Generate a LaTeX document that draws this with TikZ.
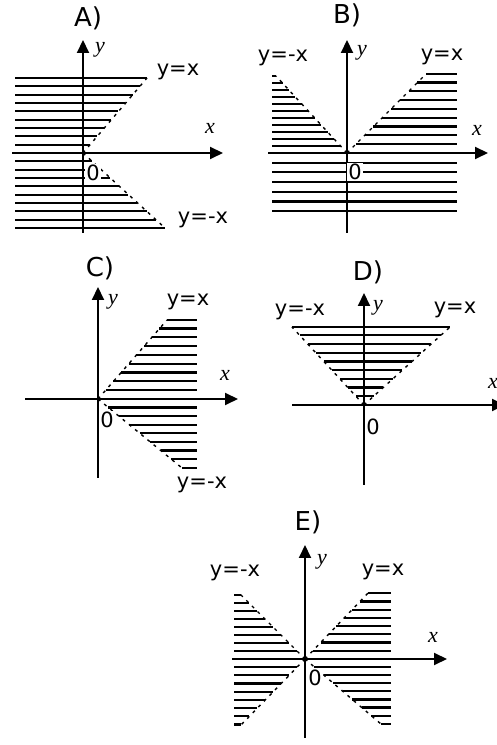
\documentclass[tikz,border=0pt]{standalone}
\usepackage{fontspec}
\setmainfont{DejaVu Sans}
\newfontfamily\axfont{Liberation Serif}
\usetikzlibrary{arrows.meta}

\begin{document}
\begin{tikzpicture}[x=1pt, y=1pt,
    every node/.style={inner sep=0pt},
    axis/.style={line width=2pt, -{Triangle[length=13pt, width=12pt]}},
    hatch/.style={line width=2.2pt},
    bnd/.style={line width=1.4pt, dash pattern=on 3pt off 5pt},
    ttl/.style={font=\fontsize{26}{28}\selectfont},
    lbl/.style={font=\fontsize{21}{24}\selectfont},
    orig/.style={font=\fontsize{21}{24}\selectfont, fill=white, inner sep=1pt},
    var/.style={font=\fontsize{22}{24}\selectfont\axfont\itshape}
]
\useasboundingbox (0,0) rectangle (497,745);

% A)
\begin{scope}[shift={(83,592)}]
\foreach \j in {1,...,9} {
  \draw[hatch] (-68,{8.33*\j}) -- ({0.85*8.33*\j},{8.33*\j});
  \draw[hatch] (-68,{-8.33*\j}) -- ({1.09*8.33*\j},{-8.33*\j});
}
\draw[bnd] (0,0) -- (64,75);
\draw[bnd] (0,0) -- (82,-75);
\draw[axis] (-71,0) -- (140,0);
\draw[axis] (0,-80) -- (0,113);
\node[ttl] (ttlA) at (5,135) {A)};
\node[var] (yA) at (17,103) {y};
\node[var] (xA) at (127,25) {x};
\node[lbl] (pA) at (95,81) {y=x};
\node[lbl] (mA) at (120,-67) {y=-x};
\node[orig] (oA) at (10,-20) {0};
\end{scope}

% B)
\begin{scope}[shift={(347,592)}]
\foreach \j in {1,...,11}
  \draw[hatch] (-75,{7*\j}) -- ({-0.92*7*\j},{7*\j});
\foreach \j in {1,...,9}
  \draw[hatch] ({8.8*\j},{8.8*\j}) -- (110,{8.8*\j});
\foreach \j in {1,...,6}
  \draw[hatch] (-75,{-9.7*\j}) -- (110,{-9.7*\j});
\draw[bnd] (0,0) -- (-71,77);
\draw[bnd] (0,0) -- (79,79);
\draw[axis] (-79,0) -- (141,0);
\draw[axis] (0,-80) -- (0,113);
\node[ttl] (ttlB) at (0,138) {B)};
\node[var] (yB) at (15,100) {y};
\node[var] (xB) at (130,23) {x};
\node[lbl] (mB) at (-64,95) {y=-x};
\node[lbl] (pB) at (95,96) {y=x};
\node[orig] (oB) at (8,-19) {0};
\end{scope}

% C)
\begin{scope}[shift={(98,346)}]
\foreach \j in {1,...,9}
  \draw[hatch] ({0.87*8.8*\j},{8.8*\j}) -- (99,{8.8*\j});
\foreach \j in {1,...,8}
  \draw[hatch] ({1.22*8.6*\j},{-8.6*\j}) -- (99,{-8.6*\j});
\draw[bnd] (0,0) -- (69,79);
\draw[bnd] (0,0) -- (84,-69);
\draw[axis] (-73,0) -- (140,0);
\draw[axis] (0,-79) -- (0,112);
\node[ttl] (ttlC) at (2,131) {C)};
\node[var] (yC) at (15,97) {y};
\node[var] (xC) at (127,24) {x};
\node[lbl] (pC) at (90,97) {y=x};
\node[lbl] (mC) at (104,-86) {y=-x};
\node[orig] (oC) at (9,-21) {0};
\end{scope}

% D)
\begin{scope}[shift={(364,340)}]
\foreach \j in {1,...,9}
  \draw[hatch] ({-0.92*8.7*\j},{8.7*\j}) -- ({1.1*8.7*\j},{8.7*\j});
\draw[bnd] (0,0) -- (-72,78);
\draw[bnd] (0,0) -- (86,78);
\draw[axis] (-72,0) -- (141,0);
\draw[axis] (0,-80) -- (0,112);
\node[ttl] (ttlD) at (4,133) {D)};
\node[var] (yD) at (14,97) {y};
\node[var] (xD) at (129,22) {x};
\node[lbl] (mD) at (-64,93) {y=-x};
\node[lbl] (pD) at (91,95) {y=x};
\node[orig] (oD) at (9,-22) {0};
\end{scope}

% E)
\begin{scope}[shift={(305,86)}]
\foreach \j in {1,...,8} {
  \draw[hatch] (-71,{8*\j}) -- ({-8*\j},{8*\j});
  \draw[hatch] (-71,{-8.2*\j}) -- ({-0.97*8.2*\j},{-8.2*\j});
  \draw[hatch] ({0.96*8.2*\j},{8.2*\j}) -- (86,{8.2*\j});
  \draw[hatch] ({1.17*8.1*\j},{-8.1*\j}) -- (86,{-8.1*\j});
}
\draw[bnd] (0,0) -- (-66,66);
\draw[bnd] (0,0) -- (-64,-66);
\draw[bnd] (0,0) -- (63,66);
\draw[bnd] (0,0) -- (76,-65);
\draw[axis] (-73,0) -- (142,0);
\draw[axis] (0,-79) -- (0,114);
\node[ttl] (ttlE) at (3,137) {E)};
\node[var] (yE) at (17,97) {y};
\node[var] (xE) at (128,22) {x};
\node[lbl] (mE) at (-70,86) {y=-x};
\node[lbl] (pE) at (78,87) {y=x};
\node[orig] (oE) at (10,-19) {0};
\end{scope}

\end{tikzpicture}
\end{document}
